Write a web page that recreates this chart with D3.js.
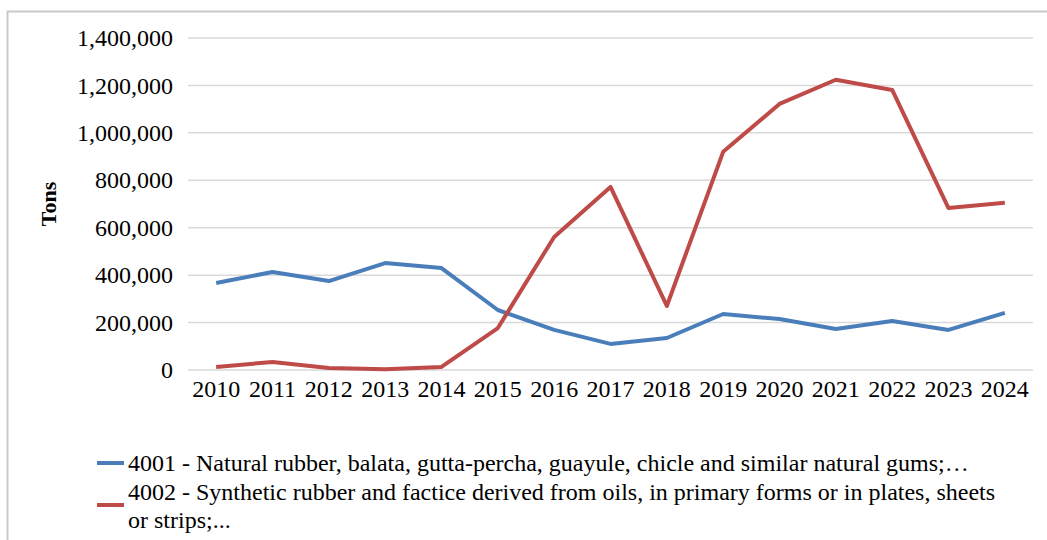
<!DOCTYPE html>
<meta charset="utf-8">
<style>
  body { margin: 0; background: #fff; }
  svg text { font-family: "Liberation Serif", "Times New Roman", serif; fill: #000; }
</style>
<div id="chart"></div>
<script src="https://cdn.jsdelivr.net/npm/d3@7"></script>
<script>
    var years = ["2010","2011","2012","2013","2014","2015","2016","2017","2018","2019","2020","2021","2022","2023","2024"];
    var natural = [367000, 413000, 375000, 451000, 430000, 253000, 169000, 110000, 135000, 236000, 215000, 173000, 207000, 169000, 241000];
    var synthetic = [13000, 34000, 8000, 3000, 13000, 177000, 561000, 772000, 270000, 920000, 1122000, 1224000, 1181000, 683000, 705000];
    var yTicks = [0, 200000, 400000, 600000, 800000, 1000000, 1200000, 1400000];
    var seriesNames = ["4001 - Natural rubber, balata, gutta-percha, guayule, chicle and similar natural gums;\u2026",
                       "4002 - Synthetic rubber and factice derived from oils, in primary forms or in plates, sheets",
                       "or strips;..."];
    var colors = ["#4a7ebb", "#be4b48"];

    var W = 1047, H = 540;
    var margin = {top: 38, right: 14, bottom: 170, left: 188};
    var width = 1033 - margin.left, height = 370 - margin.top;

    var root = d3.select("#chart").append("svg").attr("width", W).attr("height", H);

    // outer frame (left + top only visible)
    root.append("path").attr("d", "M7.5," + H + "V11.5H" + W)
        .attr("fill", "none").attr("stroke", "#c9c9c9").attr("stroke-width", 2);

    var svg = root.append("g").attr("transform", "translate(" + margin.left + "," + margin.top + ")");

    var x = d3.scaleBand().domain(years).range([0, width]);
    var y = d3.scaleLinear().domain([0, 1400000]).range([height, 0]);

    // gridlines
    svg.append("g").selectAll("line").data(yTicks).enter().append("line")
        .attr("x1", 0).attr("x2", width)
        .attr("y1", function(d) { return y(d); }).attr("y2", function(d) { return y(d); })
        .attr("stroke", "#d9d9d9").attr("stroke-width", 1.5);

    // Y axis
    var yAxis = svg.append("g").call(d3.axisLeft(y).tickValues(yTicks).tickSize(0).tickPadding(15).tickFormat(d3.format(",")));
    yAxis.select(".domain").remove();
    yAxis.selectAll("text").style("font-size", "24px").attr("fill", "#000").attr("font-family", "Liberation Serif");

    // X axis
    var xAxis = svg.append("g").attr("transform", "translate(0," + height + ")")
        .call(d3.axisBottom(x).tickSize(0).tickPadding(10));
    xAxis.select(".domain").remove();
    xAxis.selectAll("text").style("font-size", "24px").attr("fill", "#000").attr("font-family", "Liberation Serif");

    // axis title
    root.append("text").attr("transform", "translate(56,204) rotate(-90)")
        .attr("text-anchor", "middle").style("font-size", "22px").style("font-weight", "bold").text("Tons");

    var line = d3.line()
        .x(function(d, i) { return x(years[i]) + x.bandwidth() / 2; })
        .y(function(d) { return y(d); });

    [natural, synthetic].forEach(function(s, i) {
        svg.append("path").datum(s)
            .attr("fill", "none").attr("stroke", colors[i]).attr("stroke-width", 4)
            .attr("stroke-linejoin", "round").attr("d", line);
    });

    // legend
    var lg = root.append("g");
    lg.append("line").attr("x1", 97).attr("x2", 124).attr("y1", 463).attr("y2", 463)
        .attr("stroke", colors[0]).attr("stroke-width", 4);
    lg.append("line").attr("x1", 97).attr("x2", 124).attr("y1", 505).attr("y2", 505)
        .attr("stroke", colors[1]).attr("stroke-width", 4);
    var ly = [471, 500, 528];
    seriesNames.forEach(function(t, i) {
        lg.append("text").attr("x", 128).attr("y", ly[i]).style("font-size", "24px").text(t);
    });
</script>
